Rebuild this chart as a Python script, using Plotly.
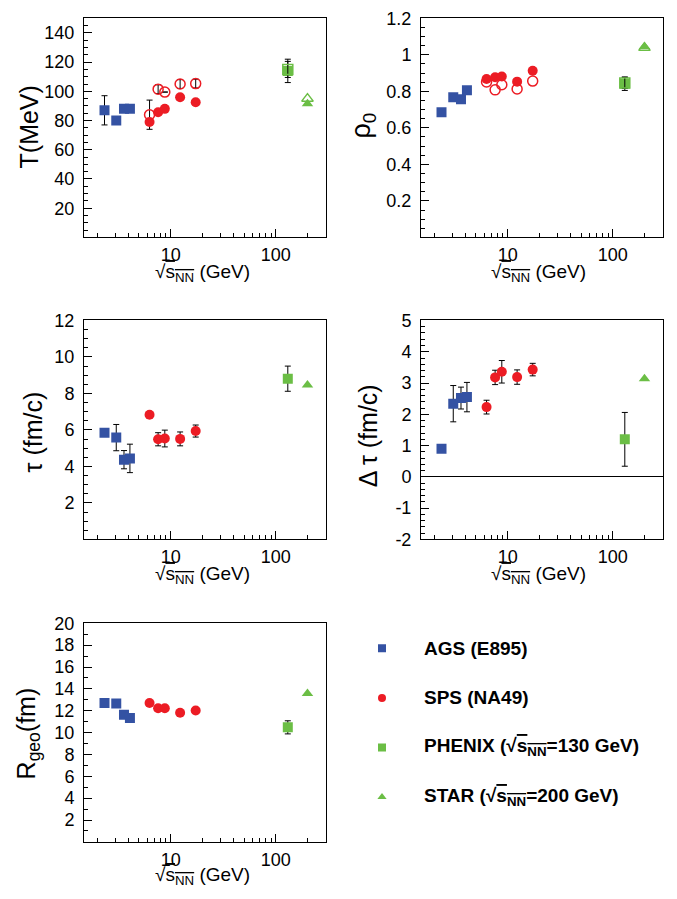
import plotly.graph_objects as go
import math

# Page body has an 8px default margin; the figure is sized so that
# margin + figure fills the 677x899 window exactly.
PAGE_W, PAGE_H = 677, 899
OFF = 8
W, H = PAGE_W - 2 * OFF, PAGE_H - 2 * OFF

# ---------------- data ----------------
ags_x = [2.35, 3.04, 3.6, 4.1]
sps_x = [6.3, 7.6, 8.8, 12.3, 17.3]
phenix_x = [130]
star_x = [200]

# Temperature T (MeV)
T_ags = [87, 80, 88, 88]
T_ags_err = [10, None, None, None]
T_sps = [79, 85.7, 88, 96, 92.5]
T_sps_open = [84, 101.5, 99.5, 105, 105.3]
T_sps_open_err = [10, 3, None, 3, 3]
T_phenix = [114]
T_phenix_err = [8]
T_phenix_open = [115]
T_phenix_open_err = [5.5]
T_star = [91.5]
T_star_open = [95]

# rho_0
rho_ags = [0.685, 0.768, 0.757, 0.806]
rho_sps = [0.868, 0.877, 0.881, 0.853, 0.913]
rho_sps_open = [0.851, 0.808, 0.836, 0.813, 0.856]
rho_phenix = [0.842]
rho_phenix_err = [0.037]
rho_phenix_open = [0.846]
rho_phenix_open_err = [0.03]
rho_star = [1.045]
rho_star_open = [1.038]

# tau (fm/c)
tau_ags = [5.85, 5.58, 4.37, 4.44]
tau_ags_err = [None, 0.72, 0.5, 0.78]
tau_sps = [6.83, 5.49, 5.53, 5.51, 5.94]
tau_sps_err = [None, 0.36, 0.46, 0.38, 0.33]
tau_phenix = [8.81]
tau_phenix_err = [0.69]
tau_star = [8.47]

# delta tau (fm/c)
dtau_ags = [0.90, 2.34, 2.52, 2.55]
dtau_ags_err = [None, 0.58, 0.35, 0.47]
dtau_sps = [2.23, 3.18, 3.36, 3.19, 3.43]
dtau_sps_err = [0.22, 0.23, 0.36, 0.23, 0.2]
dtau_phenix = [1.20]
dtau_phenix_err = [0.86]
dtau_star = [3.14]

# R_geo (fm)
R_ags = [12.71, 12.65, 11.64, 11.34]
R_sps = [12.71, 12.23, 12.23, 11.82, 12.02]
R_phenix = [10.48]
R_phenix_err = [0.6]
R_star = [13.57]

legend_labels = [
    "AGS (E895)",
    "SPS (NA49)",
    "PHENIX (√<span style='text-decoration:overline'>s<sub>NN</sub></span>=130 GeV)",
    "STAR (√<span style='text-decoration:overline'>s<sub>NN</sub></span>=200 GeV)",
]

# ---------------- style ----------------
BLUE = "#3452A3"
RED = "#EC1C24"
GREEN = "#6BBE45"
FONT = "Liberation Sans, Arial, Helvetica, sans-serif"

fig = go.Figure()


def err(arr):
    if arr is None:
        return None
    return dict(type="data", array=arr, color="black", thickness=1, width=3, visible=True)


def add(xa, ya, x, y, color, symbol, size=10, e=None, open_=False):
    marker = dict(color=color, symbol=symbol, size=size)
    if open_:
        marker["line"] = dict(color=color, width=1.5)
    else:
        marker["line"] = dict(width=0)
    fig.add_trace(go.Scatter(x=x, y=y, mode="markers", marker=marker,
                             error_y=err(e), xaxis=xa, yaxis=ya,
                             showlegend=False, hoverinfo="x+y"))


# Panel 1: T
add("x", "y", sps_x, T_sps_open, RED, "circle-open", 10, T_sps_open_err, True)
add("x", "y", ags_x, T_ags, BLUE, "square", 10, T_ags_err)
add("x", "y", sps_x, T_sps, RED, "circle", 10)
add("x", "y", phenix_x, T_phenix, GREEN, "square", 10, T_phenix_err)
add("x", "y", phenix_x, T_phenix_open, GREEN, "square-open", 10, T_phenix_open_err, True)
add("x", "y", star_x, T_star, GREEN, "triangle-up", 10)
add("x", "y", star_x, T_star_open, GREEN, "triangle-up-open", 10, None, True)

# Panel 2: rho0
add("x2", "y2", sps_x, rho_sps_open, RED, "circle-open", 10, None, True)
add("x2", "y2", ags_x, rho_ags, BLUE, "square", 10)
add("x2", "y2", sps_x, rho_sps, RED, "circle", 10)
add("x2", "y2", phenix_x, rho_phenix, GREEN, "square", 10, rho_phenix_err)
add("x2", "y2", phenix_x, rho_phenix_open, GREEN, "square-open", 10, rho_phenix_open_err, True)
add("x2", "y2", star_x, rho_star_open, GREEN, "triangle-up-open", 10, None, True)
add("x2", "y2", star_x, rho_star, GREEN, "triangle-up", 10)

# Panel 3: tau
add("x3", "y3", ags_x, tau_ags, BLUE, "square", 10, tau_ags_err)
add("x3", "y3", sps_x, tau_sps, RED, "circle", 10, tau_sps_err)
add("x3", "y3", phenix_x, tau_phenix, GREEN, "square", 10, tau_phenix_err)
add("x3", "y3", star_x, tau_star, GREEN, "triangle-up", 10)

# Panel 4: delta tau
add("x4", "y4", ags_x, dtau_ags, BLUE, "square", 10, dtau_ags_err)
add("x4", "y4", sps_x, dtau_sps, RED, "circle", 10, dtau_sps_err)
add("x4", "y4", phenix_x, dtau_phenix, GREEN, "square", 10, dtau_phenix_err)
add("x4", "y4", star_x, dtau_star, GREEN, "triangle-up", 10)

# Panel 5: R_geo
add("x5", "y5", ags_x, R_ags, BLUE, "square", 10)
add("x5", "y5", sps_x, R_sps, RED, "circle", 10)
add("x5", "y5", phenix_x, R_phenix, GREEN, "square", 10, R_phenix_err)
add("x5", "y5", star_x, R_star, GREEN, "triangle-up", 10)

# Legend markers (hidden axis 6)
leg_rows = list(range(len(legend_labels)))
leg_colors = [BLUE, RED, GREEN, GREEN]
leg_symbols = ["square", "circle", "square", "triangle-up"]
for i in leg_rows:
    fig.add_trace(go.Scatter(x=[0.5], y=[i], mode="markers",
                             marker=dict(color=leg_colors[i], symbol=leg_symbols[i], size=8,
                                         line=dict(width=0)),
                             xaxis="x6", yaxis="y6", showlegend=False, hoverinfo="skip"))

# ---------------- layout ----------------
def fx(p):
    return (p - OFF) / W


def fy(p):
    return 1 - (p - OFF) / H


def px_x(a, b):
    return [max(0, fx(a)), min(1, fx(b))]


def px_y(top, bottom):
    return [max(0, fy(bottom)), min(1, fy(top))]


LEFT = (84, 326)
RIGHT = (421, 663)
ROW1 = (8.3, 232.5)
ROW2 = (317.5, 541.5)
ROW3 = (627.3, 851)

xlog_range = [math.log10(1.5), math.log10(300)]
x_minor_vals = [2, 3, 4, 5, 6, 7, 8, 9, 20, 30, 40, 50, 60, 70, 80, 90, 200, 300]


def xaxis(domain, anchor):
    return dict(domain=domain, anchor=anchor, type="log", range=xlog_range,
                tickvals=[10, 100], ticktext=["10", "100"], ticks="inside", ticklen=8,
                tickwidth=1, tickcolor="black",
                minor=dict(tickvals=x_minor_vals, ticks="inside", ticklen=4, tickwidth=1,
                           tickcolor="black", showgrid=False),
                showline=True, linecolor="black", linewidth=1, mirror=True,
                showgrid=False, zeroline=False,
                tickfont=dict(family=FONT, size=18, color="black"),
                ticklabelstandoff=1)


def yaxis(domain, anchor, rng, vals, texts, minor_dtick, zeroline=False):
    return dict(domain=domain, anchor=anchor, range=rng,
                tickvals=vals, ticktext=texts, ticks="inside", ticklen=8, tickwidth=1,
                tickcolor="black",
                minor=dict(dtick=minor_dtick, tick0=0, ticks="inside", ticklen=4, tickwidth=1,
                           tickcolor="black", showgrid=False),
                showline=True, linecolor="black", linewidth=1, mirror=True,
                showgrid=False, zeroline=zeroline, zerolinecolor="black", zerolinewidth=1,
                tickfont=dict(family=FONT, size=18, color="black"),
                ticklabelstandoff=5)


T_ticks = [20, 40, 60, 80, 100, 120, 140]
rho_ticks = [0.2, 0.4, 0.6, 0.8, 1.0, 1.2]
rho_text = ["0.2", "0.4", "0.6", "0.8", "1", "1.2"]
tau_ticks = [2, 4, 6, 8, 10, 12]
dtau_ticks = [-2, -1, 0, 1, 2, 3, 4, 5]
R_ticks = [2, 4, 6, 8, 10, 12, 14, 16, 18, 20]

fig.update_layout(
    width=W, height=H,
    margin=dict(l=0, r=0, t=0, b=0),
    paper_bgcolor="white", plot_bgcolor="white",
    font=dict(family=FONT, color="black"),
    showlegend=False,
    xaxis=xaxis(px_x(*LEFT), "y"),
    yaxis=yaxis(px_y(*ROW1), "x", [0, 150], T_ticks, [str(v) for v in T_ticks], 5),
    xaxis2=xaxis(px_x(*RIGHT), "y2"),
    yaxis2=yaxis(px_y(*ROW1), "x2", [0, 1.2], rho_ticks, rho_text, 0.05),
    xaxis3=xaxis(px_x(*LEFT), "y3"),
    yaxis3=yaxis(px_y(*ROW2), "x3", [0, 12], tau_ticks, [str(v) for v in tau_ticks], 0.5),
    xaxis4=xaxis(px_x(*RIGHT), "y4"),
    yaxis4=yaxis(px_y(*ROW2), "x4", [-2, 5], dtau_ticks, [str(v) for v in dtau_ticks], 0.2, True),
    xaxis5=xaxis(px_x(*LEFT), "y5"),
    yaxis5=yaxis(px_y(*ROW3), "x5", [0, 20], R_ticks, [str(v) for v in R_ticks], 1),
    xaxis6=dict(domain=px_x(372, 392), anchor="y6", range=[0, 1], visible=False),
    yaxis6=dict(domain=px_y(627.6, 830.4), anchor="x6", range=[3.5, -0.5], visible=False),
)

XT = "√<span style='text-decoration:overline'>s<sub>NN</sub></span> (GeV)"
annots = []


def ann(text, xp, yp, size, angle=0, bold=False, xanchor="center"):
    annots.append(dict(text=text, x=fx(xp), y=fy(yp), xref="paper", yref="paper",
                       showarrow=False, textangle=angle, xanchor=xanchor, yanchor="middle",
                       font=dict(family=FONT, size=size, color="black",
                                 weight="bold" if bold else "normal")))


# x titles
for cx, cy in [(202, 269), (538, 269), (202, 578), (538, 578), (202, 886)]:
    ann(XT, cx, cy, 19)

# y titles
ann("T(MeV)", 29, 120, 25, -90)
ann("ρ<sub>0</sub>", 363, 118, 27, -90)
ann("τ (fm/c)", 33, 432, 25, -90)
ann("Δ τ (fm/c)", 368, 436, 25, -90)
ann("R<sub>geo</sub>(fm)", 28, 740, 25, -90)

# legend text
leg_y0, leg_dy = 653, 50.7
for i, lab in enumerate(legend_labels):
    ann(lab, 422, leg_y0 + i * leg_dy, 19, 0, True, "left")

fig.update_layout(annotations=annots)

fig.write_html("out.html")
